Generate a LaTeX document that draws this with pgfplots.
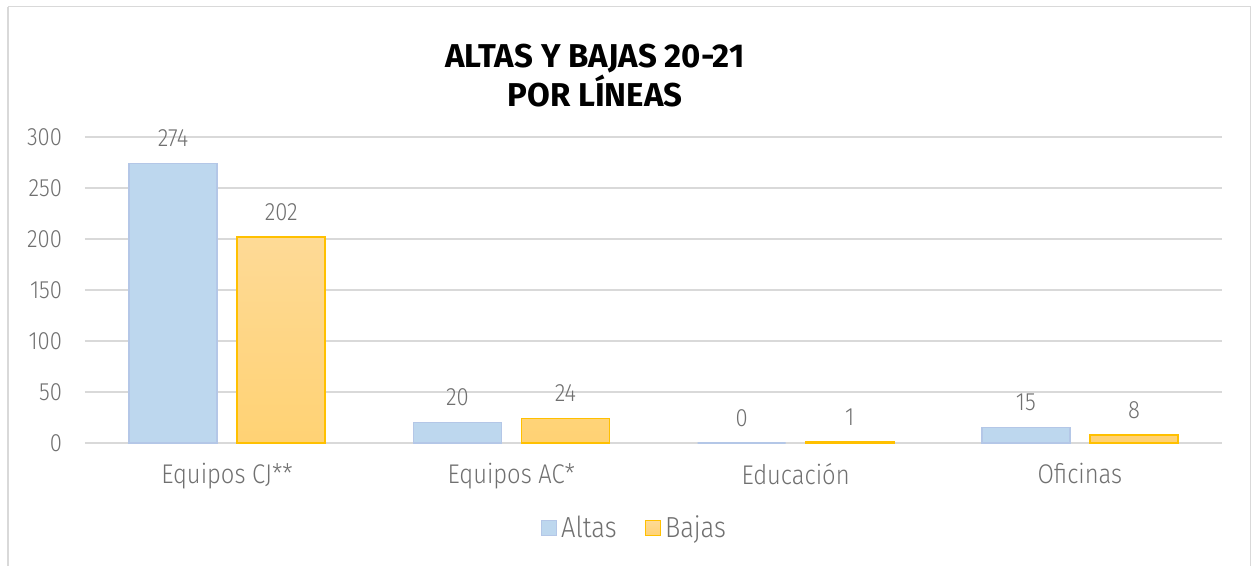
\documentclass[border=0pt]{standalone}
\usepackage{fontspec}
\setmainfont{Fira Sans Light}[FakeStretch=0.88]
\newfontfamily\titlefont{Fira Sans Bold}
\usepackage{pgfplots}
\pgfplotsset{compat=1.18}
\definecolor{gridc}{HTML}{D9D9D9}
\definecolor{txt}{HTML}{707070}
\definecolor{altasfill}{HTML}{BDD7EE}
\definecolor{altasdraw}{HTML}{B4C7E7}
\definecolor{bajastop}{HTML}{FEDA96}
\definecolor{bajasbot}{HTML}{FFD274}
\definecolor{bajasdraw}{HTML}{FFC000}
\begin{document}
\begin{tikzpicture}
\useasboundingbox (0,0) rectangle (626pt,283pt);
\draw[gridc, line width=1pt] (4pt,0) -- (4pt,279.5pt);
\draw[gridc, line width=0.5pt] (4pt,279.5pt) -- (625pt,279.5pt) -- (625pt,0);
\node[align=center, font=\titlefont\fontsize{16.5}{18.5}\selectfont, text=black] at (297.5pt,245pt) {ALTAS Y BAJAS 20-21\\POR LÍNEAS};
\begin{axis}[
  at={(42.5pt,61.5pt)}, anchor=south west,
  width=568.5pt, height=153pt, scale only axis,
  xmin=-0.5, xmax=3.5, ymin=0, ymax=300,
  ybar=10pt, bar width=0.31,
  ytick={0,50,...,300},
  xtick={0,1,2,3},
  xticklabels={Equipos CJ**, Equipos AC*, Educación, Oficinas},
  ymajorgrids, grid style={gridc, line width=0.75pt},
  axis line style={draw=none},
  major tick length=0pt,
  /pgf/number format/assume math mode=true,
  tick label style={font=\fontsize{12.5}{14}\selectfont, text=txt},
  yticklabel style={xshift=-8pt},
  xticklabel style={yshift=-6.5pt, font=\fontsize{13.5}{15}\selectfont},
  nodes near coords,
  every node near coord/.append style={font=\fontsize{12.5}{14}\selectfont, text=txt, anchor=center, yshift=12.5pt},
  legend style={at={(0.484,-0.278)}, anchor=center, draw=none, fill=none,
    legend columns=2, font=\fontsize{14.5}{16}\selectfont, text=txt,
    /tikz/every even column/.append style={column sep=12pt}},
  legend cell align=left,
  legend image code/.code={\draw[#1] (0pt,-3.75pt) rectangle (7.5pt,3.75pt);},
  clip=false,
]
\addplot[fill=altasfill, draw=altasdraw, line width=0.75pt]
  coordinates {(0,274) (1,20) (2,0) (3,15)};
\addlegendentry{Altas}
\addplot[top color=bajastop, bottom color=bajasbot, draw=bajasdraw, line width=0.75pt]
  coordinates {(0,202) (1,24) (2,1) (3,8)};
\addlegendentry{Bajas}
\end{axis}
\end{tikzpicture}
\end{document}
